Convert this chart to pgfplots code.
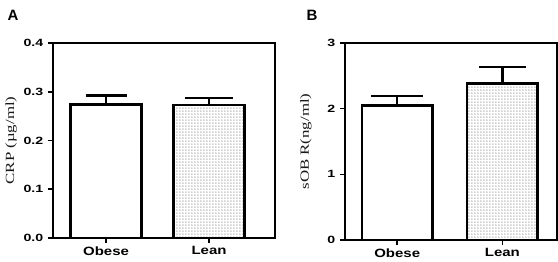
\documentclass[border=0pt]{standalone}
\usepackage{fontspec}
\setmainfont{Liberation Sans}
\newfontfamily\seriffont{Liberation Serif}
\usepackage{pgfplots}
\pgfplotsset{compat=1.18}
\usetikzlibrary{patterns}
\pgfdeclarepatternformonly{mydots}{\pgfpointorigin}{\pgfqpoint{3.1pt}{3.1pt}}{\pgfqpoint{3.1pt}{3.1pt}}{%
  \pgfpathcircle{\pgfqpoint{1.2pt}{1.2pt}}{0.7pt}\pgfusepath{fill}}
\begin{document}
\begin{tikzpicture}
\useasboundingbox (0pt,0pt) rectangle (558pt,262pt);
\pgfplotsset{
 panel/.style={
  scale only axis,
  anchor=south west,
  axis line style={line width=1.8pt},
  every tick/.style={line width=1.6pt, black},
  tick align=outside,
  major tick length=5pt,
  xtick={0,1}, xticklabels={Obese,Lean},
  xtick pos=bottom, ytick pos=left,
  ymin=0,
  x tick label style={font=\bfseries\fontsize{12}{14}\selectfont, xscale=1.25},
  y tick label style={font=\bfseries\fontsize{10.5}{12}\selectfont, xscale=1.35},
  /pgf/number format/assume math mode=true,
  ylabel style={font=\seriffont\fontsize{12.5}{14}\selectfont, text=black!90, anchor=center},
  clip=false,
 },
 mybar/.style={ybar, bar shift=0pt, draw=black, line width=2.4pt,
   error bars/y dir=plus, error bars/y explicit,
   error bars/error bar style={line width=2.4pt},
   error bars/error mark options={rotate=90, line width=2.4pt, mark size=#1}},
}
% Panel A
\begin{axis}[panel,
  at={(53pt,24pt)}, width=222pt, height=195pt,
  xmin=-0.515, xmax=1.64, ymax=0.4,
  ytick={0,0.1,0.2,0.3,0.4},
  yticklabel style={/pgf/number format/.cd, fixed, fixed zerofill, precision=1},
  ylabel={\scalebox{1.35}[1]{CRP (µg/ml)}},
  ylabel style={at={(axis description cs:-0.189,0.5)}},
  bar width=0.69,
]
\addplot[mybar=20.5pt, fill=white] coordinates {(0,0.274) +- (0,0.018)};
\addplot[mybar=24pt, pattern=mydots, pattern color=black!75] coordinates {(1,0.273) +- (0,0.014)};
\end{axis}
% Panel B
\begin{axis}[panel,
  at={(345pt,22pt)}, width=212pt, height=197pt,
  xmin=-0.497, xmax=1.52, ymax=3,
  ytick={0,1,2,3},
  ylabel={\scalebox{1.35}[1]{sOB R(ng/ml)}},
  ylabel style={at={(axis description cs:-0.184,0.5)}},
  bar width=0.67,
]
\addplot[mybar=26pt, fill=white] coordinates {(0,2.05) +- (0,0.14)};
\addplot[mybar=23.5pt, pattern=mydots, pattern color=black!75] coordinates {(1,2.385) +- (0,0.245)};
\end{axis}
\node[font=\bfseries\fontsize{15}{18}\selectfont, anchor=base west] at (4pt,241pt) {A};
\node[font=\bfseries\fontsize{15}{18}\selectfont, anchor=base west] at (303pt,241pt) {B};
\end{tikzpicture}
\end{document}
